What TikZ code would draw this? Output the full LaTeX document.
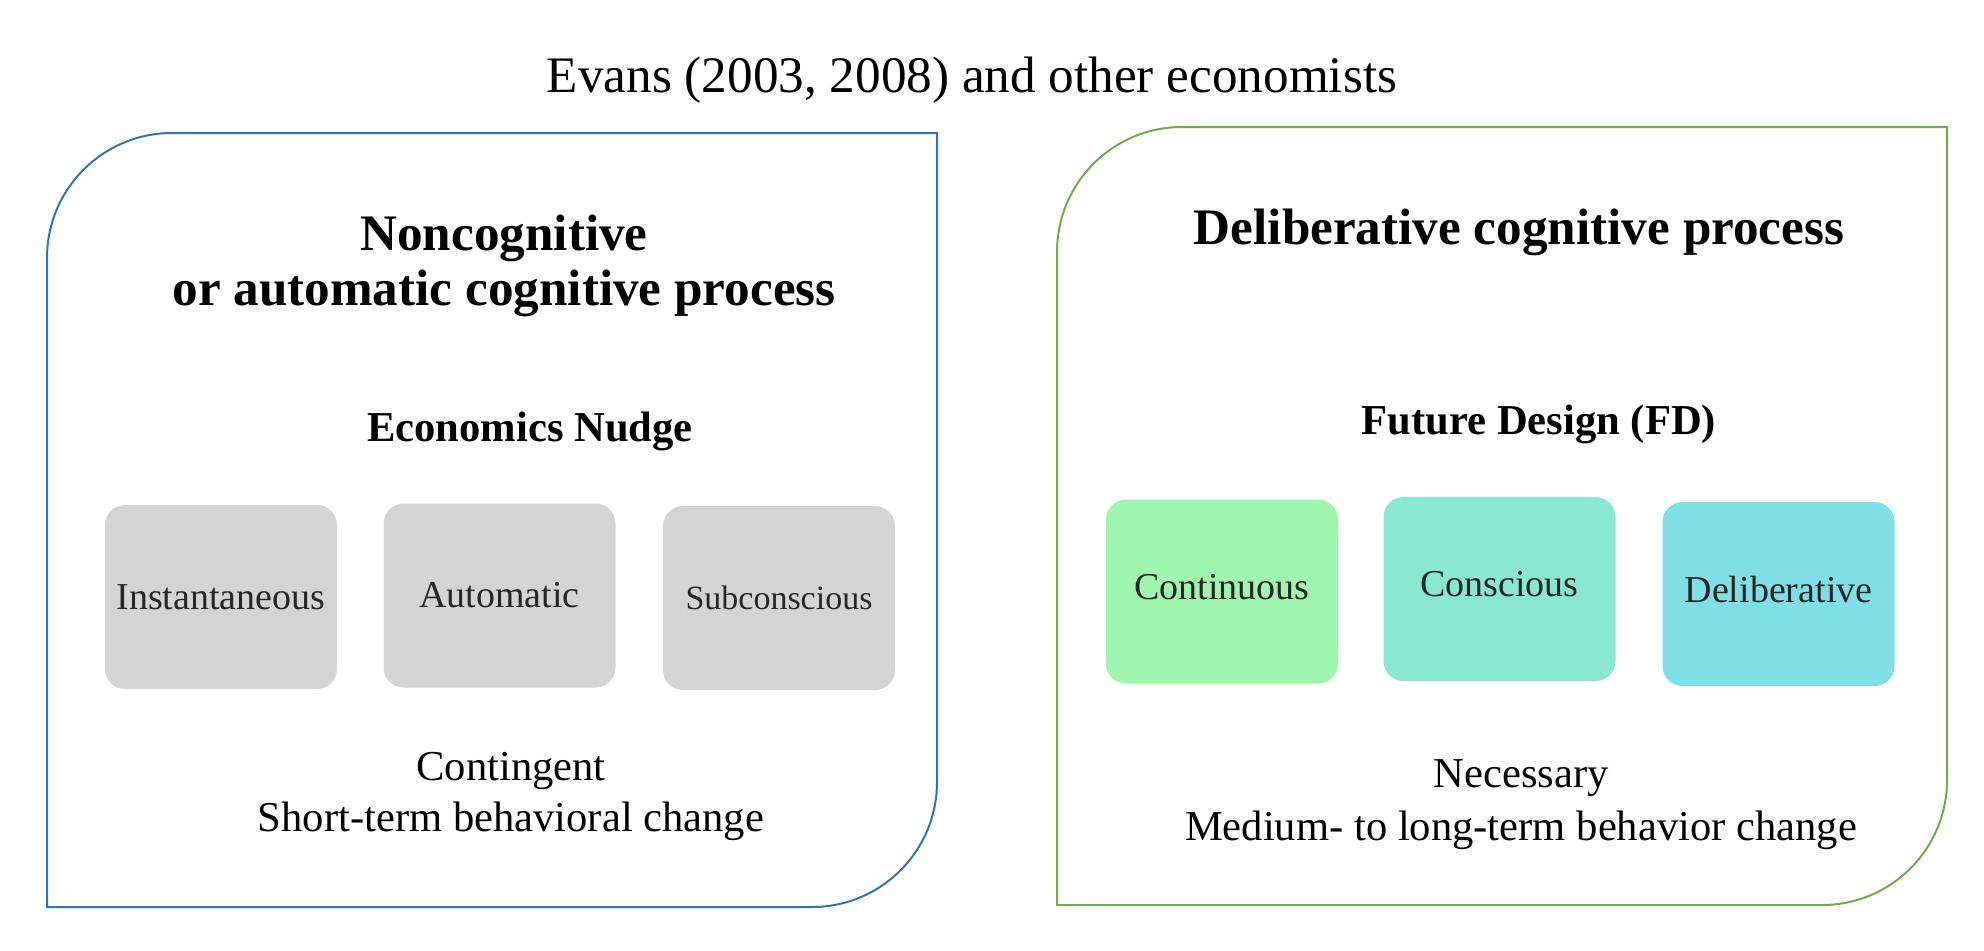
\documentclass[tikz,border=0pt]{standalone}
\usepackage{fontspec}
\setmainfont{Liberation Serif}
\definecolor{frameblue}{HTML}{2E75B6}
\definecolor{framegreen}{HTML}{70AD47}
\definecolor{nudgegrey}{HTML}{D4D4D4}
\definecolor{contgreen}{HTML}{A0F5AE}
\definecolor{conscmint}{HTML}{8BE8D0}
\definecolor{delibcyan}{HTML}{80DFE6}
\definecolor{boxtext}{HTML}{262626}
\newcommand{\lifted}[1]{\raisebox{5pt}{#1}}
\begin{document}
\begin{tikzpicture}[x=0.5pt,y=-0.5pt,
  frame/.style={line width=1pt},
  heading/.style={font=\bfseries\fontsize{25.6}{27.2}\selectfont, align=center},
  subhead/.style={font=\bfseries\fontsize{21.3}{25}\selectfont, align=center},
  note/.style={font=\fontsize{21.3}{25.5}\selectfont, align=center},
  tile/.style={rounded corners=10pt, minimum width=116pt, minimum height=92pt,
    inner sep=0pt, text=boxtext, font=\fontsize{19}{22}\selectfont}]
\useasboundingbox (0,0) rectangle (1984,950);

% title
\node[font=\fontsize{25.6}{30}\selectfont] (title) at (972,80) {Evans (2003, 2008) and other economists};

% left frame: rounded top-left and bottom-right corners
\draw[frame, frameblue] (47,907) -- (47,258) arc[start angle=180, end angle=270, radius=125]
  -- (937,133) -- (937,782) arc[start angle=0, end angle=90, radius=125] -- cycle;

% right frame
\draw[frame, framegreen] (1057,905) -- (1057,252) arc[start angle=180, end angle=270, radius=125]
  -- (1947,127) -- (1947,780) arc[start angle=0, end angle=90, radius=125] -- cycle;

% left contents
\node[heading] (lhead) at (504,266) {Noncognitive\\or automatic cognitive process};
\node[subhead] (nudge) at (530,431) {Economics Nudge};
\node[tile, fill=nudgegrey] (inst) at (221,597) {Instantaneous};
\node[tile, fill=nudgegrey] (auto) at (499.5,595.5) {Automatic};
\node[tile, fill=nudgegrey, font=\fontsize{17}{20}\selectfont] (subc) at (779,598) {Subconscious};
\node[note] (lnote) at (511,796) {Contingent\\Short-term behavioral change};

% right contents
\node[heading] (rhead) at (1519,232) {Deliberative cognitive process};
\node[subhead] (fd) at (1539,424) {Future Design (FD)};
\node[tile, fill=contgreen] (cont) at (1222,591.5) {\lifted{Continuous}};
\node[tile, fill=conscmint] (consc) at (1499.5,589) {\lifted{Conscious}};
\node[tile, fill=delibcyan] (delib) at (1778.5,594) {\lifted{Deliberative}};
\node[note, font=\fontsize{21.3}{26.5}\selectfont] (rnote) at (1521,804.5) {Necessary\\Medium- to long-term behavior change};
\end{tikzpicture}
\end{document}
